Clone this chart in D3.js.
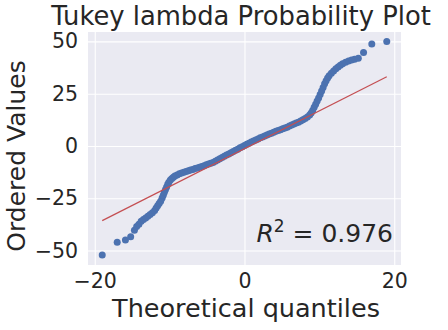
<!DOCTYPE html>
<html><head><meta charset="utf-8">
<script src="https://cdn.jsdelivr.net/npm/d3@7"></script>
<style>body{margin:0;background:#fff}svg text{font-family:"DejaVu Sans",sans-serif;fill:#262626}</style>
</head><body><svg id="c" width="448" height="330"></svg>
<script>
const theoretical = [-19.0,-17.0,-15.9,-15.2,-14.7,-14.4,-14.1,-13.8,-13.5,-13.2,-12.9,-12.6,-12.3,-12.0,-11.8,-11.6,-11.4,-11.2,-11.0,-10.85,-10.7,-10.55,-10.4,-10.25,-10.1,-9.9,-9.7,-9.5,-9.3,-9.0,-8.7,-8.4,-8.1,-7.8,-7.5,-7.2,-6.9,-6.6,-6.3,-6.0,-5.7,-5.4,-5.1,-4.8,-4.5,-4.2,-3.9,-3.6,-3.3,-3.0,-2.7,-2.4,-2.1,-1.8,-1.5,-1.2,-0.9,-0.6,-0.3,0.0,0.3,0.6,0.9,1.2,1.5,1.8,2.1,2.4,2.7,3.0,3.3,3.6,3.9,4.2,4.5,4.8,5.1,5.4,5.7,6.0,6.3,6.6,6.9,7.2,7.5,7.8,8.1,8.4,8.7,8.9,9.1,9.3,9.5,9.7,9.9,10.1,10.3,10.5,10.7,10.9,11.1,11.3,11.6,11.9,12.2,12.5,12.8,13.1,13.5,13.9,14.3,14.7,15.2,15.9,17.0,19.0];
const ordered = [-52.1,-46.0,-45.0,-43.4,-40.3,-38.5,-37.4,-36.0,-35.2,-34.4,-33.6,-32.8,-31.9,-30.9,-29.7,-28.6,-27.5,-26.4,-24.9,-23.5,-22.1,-20.8,-19.6,-18.3,-17.3,-16.3,-15.5,-14.9,-14.4,-13.9,-13.3,-12.9,-12.5,-12.2,-11.8,-11.5,-11.2,-10.8,-10.5,-10.2,-9.8,-9.4,-9.0,-8.6,-8.3,-7.9,-7.3,-6.7,-6.1,-5.5,-4.9,-4.3,-3.8,-3.2,-2.6,-2.0,-1.5,-0.9,-0.4,0.2,0.8,1.3,1.9,2.4,2.9,3.4,3.9,4.3,4.8,5.3,5.7,6.1,6.6,7.0,7.4,7.8,8.2,8.6,9.0,9.6,10.0,10.5,11.0,11.4,12.0,12.5,13.2,13.9,14.8,15.8,17.0,18.5,20.0,21.5,23.0,24.6,26.3,28.0,29.7,31.2,32.5,33.6,34.8,35.9,36.9,37.8,38.6,39.3,40.0,40.6,41.1,41.5,41.9,44.7,48.8,49.9];
const fitSlope = 1.81;
const fitIntercept = -1.3;
const xTicks = [-20, 0, 20];
const yTicks = [-50, -25, 0, 25, 50];
const titleText = "Tukey lambda Probability Plot";
const xLabel = "Theoretical quantiles";
const yLabel = "Ordered Values";
const r2Value = "0.976";

const svg = d3.select("#c");
const L = 88, R = 401, T = 32, B = 265;
const x = d3.scaleLinear().domain([-20.9, 20.9]).range([L, R]);
const y = d3.scaleLinear().domain([-56.9, 54.5]).range([B, T]);

svg.append("rect").attr("x", L).attr("y", T).attr("width", R - L).attr("height", B - T).attr("fill", "#EAEAF2");

const fmt = d => d < 0 ? "\u2212" + Math.abs(d) : String(d);
const gx = svg.append("g").attr("transform", `translate(0,${B})`)
  .call(d3.axisBottom(x).tickValues(xTicks).tickSize(-(B - T)).tickPadding(8).tickFormat(fmt));
const gy = svg.append("g").attr("transform", `translate(${L},0)`)
  .call(d3.axisLeft(y).tickValues(yTicks).tickSize(-(R - L)).tickPadding(10).tickFormat(fmt));
[gx, gy].forEach(g => {
  g.select(".domain").remove();
  g.selectAll(".tick line").attr("stroke", "#fff").attr("stroke-width", 1.1);
  g.selectAll(".tick text").attr("font-size", 20.5).attr("fill", "#262626").attr("font-family", "DejaVu Sans");
});
gx.selectAll(".tick text").attr("dy", "0.75em");

const pts = theoretical.map((t, i) => [t, ordered[i]]);
svg.append("g").selectAll("circle").data(pts).join("circle")
  .attr("cx", d => x(d[0])).attr("cy", d => y(d[1])).attr("r", 3.5).attr("fill", "#4C72B0");

const x0 = d3.min(theoretical), x1 = d3.max(theoretical);
svg.append("line").attr("x1", x(x0)).attr("y1", y(fitSlope * x0 + fitIntercept))
  .attr("x2", x(x1)).attr("y2", y(fitSlope * x1 + fitIntercept))
  .attr("stroke", "#C44E52").attr("stroke-width", 1.2);

svg.append("text").attr("x", 241).attr("y", 24.5).attr("text-anchor", "middle").attr("font-size", 25.8).text(titleText);
svg.append("text").attr("x", 246).attr("y", 317).attr("text-anchor", "middle").attr("font-size", 25.5).text(xLabel);
svg.append("text").attr("transform", "translate(25,156) rotate(-90)").attr("text-anchor", "middle").attr("font-size", 25).text(yLabel);

const rt = svg.append("text").attr("x", 393).attr("y", 242).attr("text-anchor", "end").attr("font-size", 25);
rt.append("tspan").attr("font-style", "italic").text("R");
rt.append("tspan").attr("font-size", 17).attr("dy", -10).text("2");
rt.append("tspan").attr("dy", 10).text(" = " + r2Value);
</script></body></html>
